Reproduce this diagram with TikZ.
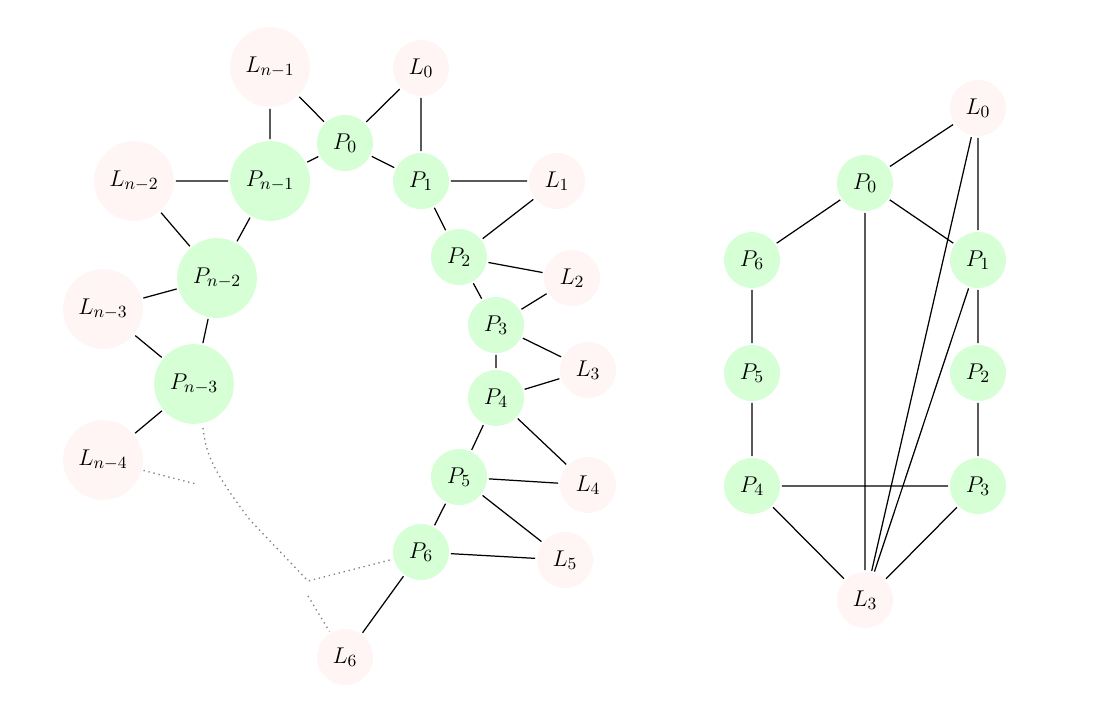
\documentclass[tikz,border=0pt]{standalone}
\begin{document}
\begin{tikzpicture}[x=0.5263pt,y=-0.5263pt,
  every node/.style={font=\fontsize{13}{15}\selectfont},
  pnode/.style={circle,fill=green!16,inner sep=0pt,outer sep=1pt,minimum size=29.5pt},
  lnode/.style={circle,fill=red!4,inner sep=0pt,outer sep=1pt,minimum size=29.5pt},
  big/.style={minimum size=42pt},
  edge/.style={draw=black,line width=0.65pt},
  dotedge/.style={draw=gray,dotted,line width=0.7pt}]
\useasboundingbox (0,0) rectangle (1102,700);
% left graph
\node[lnode,big] (Lnm1) at (270,67) {$L_{n-1}$};
\node[lnode] (L0) at (421,68) {$L_0$};
\node[pnode] (P0) at (345,143) {$P_0$};
\node[pnode,big] (Pnm1) at (270,181) {$P_{n-1}$};
\node[pnode] (P1) at (421,181) {$P_1$};
\node[lnode,big] (Lnm2) at (134,181) {$L_{n-2}$};
\node[lnode] (L1) at (557,181) {$L_1$};
\node[pnode] (P2) at (459,257) {$P_2$};
\node[pnode,big] (Pnm2) at (217,278) {$P_{n-2}$};
\node[lnode] (L2) at (572,278) {$L_2$};
\node[lnode,big] (Lnm3) at (103,309) {$L_{n-3}$};
\node[pnode] (P3) at (496,325) {$P_3$};
\node[lnode] (L3) at (588,370) {$L_3$};
\node[pnode,big] (Pnm3) at (194,384) {$P_{n-3}$};
\node[pnode] (P4) at (496,398) {$P_4$};
\node[lnode,big] (Lnm4) at (103,460) {$L_{n-4}$};
\node[pnode] (P5) at (459,477) {$P_5$};
\node[lnode] (L4) at (588,485) {$L_4$};
\node[pnode] (P6) at (421,552) {$P_6$};
\node[lnode] (L5) at (565,560) {$L_5$};
\node[lnode] (L6) at (345,657) {$L_6$};
\coordinate (Js) at (203,428);
\coordinate (J) at (308,581);
\coordinate (Jb) at (308,596);
\coordinate (Jl) at (196,484);
\path[edge] (Lnm1)--(P0) (Lnm1)--(Pnm1) (L0)--(P0) (L0)--(P1) (P0)--(Pnm1) (P0)--(P1)
  (Pnm1)--(Lnm2) (Pnm1)--(Pnm2) (Lnm2)--(Pnm2) (P1)--(L1) (P1)--(P2) (L1)--(P2)
  (P2)--(L2) (P2)--(P3) (L2)--(P3) (P3)--(L3) (P3)--(P4) (L3)--(P4)
  (P4)--(L4) (P4)--(P5) (L4)--(P5) (P5)--(L5) (P5)--(P6) (L5)--(P6) (P6)--(L6)
  (Pnm2)--(Lnm3) (Pnm2)--(Pnm3) (Lnm3)--(Pnm3) (Pnm3)--(Lnm4);
\path[dotedge] (Js) .. controls (206,450) and (208,465) .. (250,520) -- (J) -- (P6);
\path[dotedge] (Jb) -- (L6);
\path[dotedge] (Lnm4) -- (Jl);
% right graph
\node[lnode] (RL0) at (978,108) {$L_0$};
\node[pnode] (RP0) at (865,183) {$P_0$};
\node[pnode] (RP6) at (752,260) {$P_6$};
\node[pnode] (RP1) at (978,260) {$P_1$};
\node[pnode] (RP5) at (752,373) {$P_5$};
\node[pnode] (RP2) at (978,373) {$P_2$};
\node[pnode] (RP4) at (752,486) {$P_4$};
\node[pnode] (RP3) at (978,486) {$P_3$};
\node[lnode] (RL3) at (865,600) {$L_3$};
\path[edge] (RL0)--(RP0) (RL0)--(RP1) (RL0)--(RL3) (RP0)--(RP6) (RP0)--(RP1) (RP0)--(RL3)
  (RP1)--(RP2) (RP1)--(RL3) (RP2)--(RP3) (RP3)--(RP4) (RP3)--(RL3) (RP4)--(RL3)
  (RP4)--(RP5) (RP5)--(RP6);
\end{tikzpicture}
\end{document}
